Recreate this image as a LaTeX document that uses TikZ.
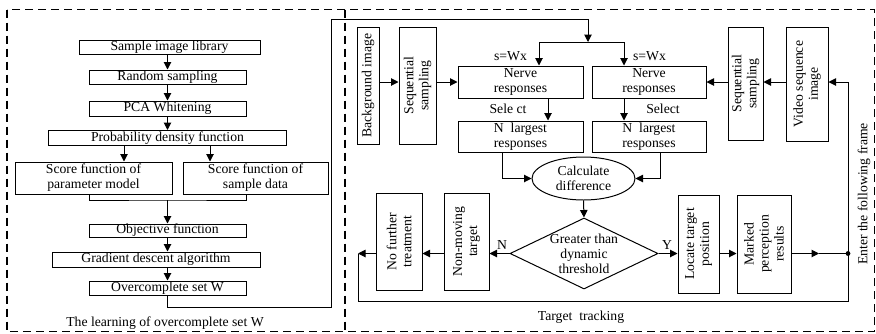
\documentclass[tikz,border=0pt]{standalone}
\usepackage{fontspec}
\setmainfont{Liberation Serif}
\usetikzlibrary{arrows.meta,shapes.geometric}
\begin{document}
\begin{tikzpicture}[x=1pt,y=-1pt,
  every node/.style={font=\fontsize{13.7}{15}\selectfont},
  box/.style={draw, line width=1pt, inner sep=0pt, align=center},
  vbox/.style={box, rotate=90},
  arr/.style={line width=1pt, -{Triangle[length=7.5pt,width=7.5pt]}},
  ln/.style={line width=1pt},
  frame/.style={line width=1.6pt, dash pattern=on 8pt off 5pt},
  lbl/.style={inner sep=0pt}]
\useasboundingbox (0,0) rectangle (876,333);
% frames
\draw[frame] (7,9.5) rectangle (874.5,331.5);
\draw[frame] (345,9.5) -- (345,331.5);
% left flowchart
\node[box, minimum width=181, minimum height=14] (sil) at (169.5,47) {Sample image library};
\node[box, minimum width=157, minimum height=14] (rs) at (167.5,77) {Random sampling};
\node[box, minimum width=157, minimum height=15] (pca) at (167.5,108.5) {PCA Whitening};
\node[box, minimum width=238, minimum height=15] (pdf) at (167.5,138) {Probability density function};
\node[box, minimum width=157, minimum height=32] (sf1) at (93.5,178) {Score function of\\parameter model};
\node[box, minimum width=145, minimum height=32] (sf2) at (255.5,178) {Score function of\\sample data};
\node[box, minimum width=157, minimum height=13] (obj) at (167.5,230.5) {Objective function};
\node[box, minimum width=208, minimum height=15] (gd) at (156,259.5) {Gradient descent algorithm};
\node[box, minimum width=157, minimum height=14] (ocw) at (167.5,288) {Overcomplete set W};
\draw[arr] (sil.south -| rs.north) -- (rs.north);
\draw[arr] (rs) -- (pca);
\draw[arr] (pca) -- (pdf);
\draw[arr] ([xshift=-43.5pt]pdf.south) -- ([xshift=-43.5pt]pdf.south |- sf1.north);
\draw[arr] ([xshift=42.5pt]pdf.south) -- ([xshift=42.5pt]pdf.south |- sf2.north);
\coordinate (mj) at (167.5,200);
\draw[ln] ([xshift=-4.5pt]sf1.south) |- (mj) -| ([xshift=-9.5pt]sf2.south);
\draw[arr] (mj) -- (obj.north);
\draw[arr] (obj.south) -- (obj.south |- gd.north);
\draw[arr] (gd.south -| ocw.north) -- (ocw.north);
\node[lbl] (t1l) at (165,323) {The learning of overcomplete set W};
% feedback of W
\coordinate (c1) at (331,307);
\coordinate (c2) at (331,19);
\coordinate (split) at (588,42);
\coordinate (t1) at (539,42);
\coordinate (t2) at (624,42);
\draw[arr] (ocw.south) |- (c1) -- (c2) -| (split);
% right part
\node[vbox, minimum width=117, minimum height=22] (bg) at (368,85.5) {Background image};
\node[vbox, minimum width=117, minimum height=37] (ss1) at (417.5,85.5) {Sequential\\sampling};
\node[box, minimum width=125, minimum height=32] (nr1) at (520.5,82) {Nerve\\responses};
\node[box, minimum width=125, minimum height=31] (nl1) at (520.5,136.5) {N\enspace largest\\responses};
\node[box, minimum width=114, minimum height=32] (nr2) at (649,82) {Nerve\\responses};
\node[box, minimum width=114, minimum height=31] (nl2) at (649,136.5) {N\enspace largest\\responses};
\node[vbox, minimum width=113, minimum height=35] (ss2) at (745.5,83.5) {Sequential\\sampling};
\node[vbox, minimum width=114, minimum height=42] (vsi) at (807,84) {Video sequence\\image};
\draw[ln] (t1) -- (t2);
\draw[arr] (t1) -- (t1 |- nr1.north);
\draw[arr] (t2) -- (t2 |- nr2.north);
\draw[arr] (bg.south |- nr1) -- (ss1.north |- nr1);
\draw[arr] (ss1.south |- nr1) -- (nr1.west);
\draw[arr] (ss2.north |- nr2) -- (nr2.east);
\draw[arr] (vsi.north |- nr2) -- (ss2.south |- nr2);
\draw[arr] ([xshift=27.5pt]nr1.south) -- ([xshift=27.5pt]nr1.south |- nl1.north);
\draw[arr] (nr2.south -| t2) -- (nl2.north -| t2);
\node[lbl] (sw1) at (510.5,56) {s=Wx};
\node[lbl] (sw2) at (649.5,56) {s=Wx};
\node[lbl] (sel1) at (508,109) {Sele ct};
\node[lbl] (sel2) at (663,109) {Select};
\node[draw, ellipse, line width=1pt, minimum width=103, minimum height=43, inner sep=0pt, align=center] (cd) at (583.5,178.5) {Calculate\\difference};
\draw[arr] ([xshift=-18.5pt]nl1.south) |- (cd.west);
\draw[arr] ([xshift=11pt]nl2.south) |- (cd.east);
\node[draw, diamond, line width=1pt, minimum width=148, minimum height=71, inner sep=0pt,
  label={[align=center, inner sep=0pt]center:Greater than\\dynamic\\threshold}] (dia) at (584,253.5) {};
\draw[arr] (cd.south) -- (dia.north);
\node[vbox, minimum width=97, minimum height=45] (nmt) at (466.5,241.5) {Non-moving\\target};
\node[vbox, minimum width=97, minimum height=46] (nft) at (399,241.5) {No further\\treatment};
\node[vbox, minimum width=98, minimum height=41] (ltp) at (698.5,244) {Locate target\\position};
\node[vbox, minimum width=98, minimum height=54] (mpr) at (764,244) {Marked\\perception\\results};
\coordinate (fl) at (358,253.5);
\coordinate (fbr) at (848,301);
\coordinate (dot) at (848,253.5);
\coordinate (mid) at (819,253.5);
\draw[arr] (dia.west) -- (nmt.south |- dia.west);
\draw[arr] (nmt.north |- dia.west) -- (nft.south |- dia.west);
\draw[arr] (nft.north |- dia.west) -- (fl);
\draw[arr] (fl) |- (fbr) |- (vsi.south |- nr2);
\draw[arr] (dia.east) -- (ltp.north |- dia.east);
\draw[arr] (ltp.south |- dia.east) -- (mpr.north |- dia.east);
\draw[arr] (mpr.south |- dia.east) -- (mid);
\draw[ln] (mid) -- (dot);
\fill (dot) circle (2.4pt);
\node[lbl] (lN) at (502,245) {N};
\node[lbl] (lY) at (667,245) {Y};
\node[lbl] (t2l) at (581,317) {Target\ \ tracking};
\node[lbl, rotate=90] (efl) at (864,194) {Enter the following frame};
\end{tikzpicture}
\end{document}
